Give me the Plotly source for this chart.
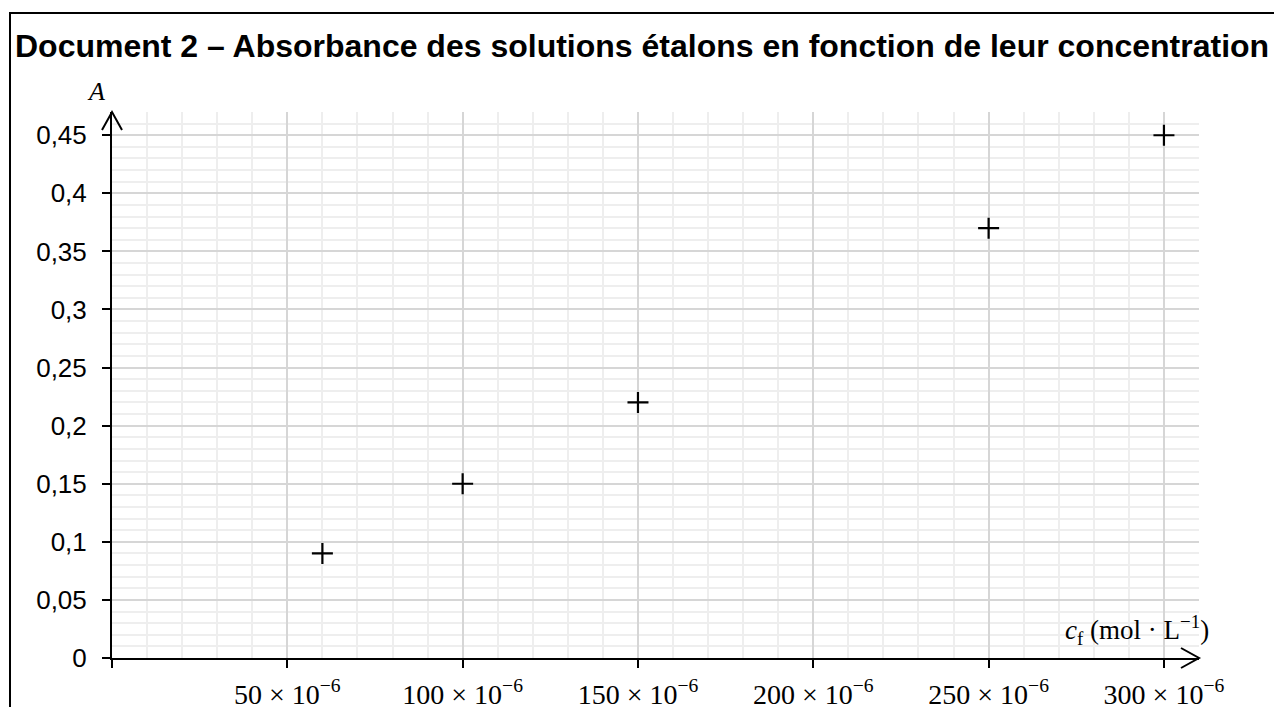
import plotly.graph_objects as go

# Data
concentration = [60e-6, 100e-6, 150e-6, 250e-6, 300e-6]
absorbance = [0.09, 0.15, 0.22, 0.37, 0.45]

x_tickvals = [0, 50e-6, 100e-6, 150e-6, 200e-6, 250e-6, 300e-6]
x_ticktext = ["", "50 × 10<sup>−6</sup>", "100 × 10<sup>−6</sup>", "150 × 10<sup>−6</sup>",
              "200 × 10<sup>−6</sup>", "250 × 10<sup>−6</sup>", "300 × 10<sup>−6</sup>"]
y_tickvals = [0, 0.05, 0.1, 0.15, 0.2, 0.25, 0.3, 0.35, 0.4, 0.45]
y_ticktext = ["0", "0,05", "0,1", "0,15", "0,2", "0,25", "0,3", "0,35", "0,4", "0,45"]

title_text = "Document 2 – Absorbance des solutions étalons en fonction de leur concentration"

X_MAX = 310e-6
Y_MAX = 0.47

# layout geometry (pixels). The page body has an 8 px margin, so the figure
# is offset by (8, 8) in the window; page coordinates below are compensated.
OFF = 8
W, H = 1282 - OFF, 707 - OFF
L = 112 - OFF
T = 112 - OFF
R = W - (1199 - OFF)
B = H - (658 - OFF)
PW, PH = W - L - R, H - T - B


def px_x(p):
    """page x pixel -> paper coordinate"""
    return (p - OFF - L) / PW


def px_y(p):
    """page y pixel -> paper coordinate"""
    return (H - B - (p - OFF)) / PH


fig = go.Figure()
fig.add_trace(go.Scatter(
    x=concentration, y=absorbance, mode="markers",
    marker=dict(symbol="cross-thin", size=15, line=dict(color="black", width=2.2), color="black"),
    showlegend=False, cliponaxis=False,
))

fig.update_layout(
    width=W, height=H,
    margin=dict(l=L, r=R, t=T, b=B, pad=0, autoexpand=False),
    paper_bgcolor="white", plot_bgcolor="white",
    font=dict(family="Liberation Sans, Arial, sans-serif", color="black"),
    showlegend=False,
)

fig.update_xaxes(
    range=[0, X_MAX], showline=True, linecolor="black", linewidth=2,
    zeroline=False, automargin=False,
    tickmode="array", tickvals=x_tickvals, ticktext=x_ticktext,
    ticks="outside", ticklen=8, tickwidth=2, tickcolor="black",
    ticklabelstandoff=2,
    tickfont=dict(family="Liberation Serif, Times New Roman, serif", size=28, color="black"),
    showgrid=True, gridcolor="#d6d6d6", gridwidth=1.5,
    minor=dict(dtick=10e-6, tick0=0, showgrid=True, gridcolor="#eeeeee", gridwidth=1.5, ticks=""),
)
fig.update_yaxes(
    range=[0, Y_MAX], showline=True, linecolor="black", linewidth=2,
    zeroline=False, automargin=False,
    tickmode="array", tickvals=y_tickvals, ticktext=y_ticktext,
    ticks="outside", ticklen=8, tickwidth=2, tickcolor="black",
    ticklabelstandoff=10,
    tickfont=dict(family="Liberation Sans, Arial, sans-serif", size=26, color="black"),
    showgrid=True, gridcolor="#d6d6d6", gridwidth=1.5,
    minor=dict(dtick=0.01, tick0=0, showgrid=True, gridcolor="#eeeeee", gridwidth=1.5, ticks=""),
)

# Arrow heads at the end of the axes (paper-anchored so they are not clipped)
fig.add_shape(type="path", xref="paper", yref="paper", xsizemode="pixel", ysizemode="pixel",
              xanchor=0, yanchor=1, path="M -10,-18 L 0,0 L 10,-18",
              line=dict(color="black", width=2))
fig.add_shape(type="path", xref="paper", yref="paper", xsizemode="pixel", ysizemode="pixel",
              xanchor=1, yanchor=0, path="M -18,10 L 0,0 L -18,-10",
              line=dict(color="black", width=2))

# Outer frame
fig.add_shape(type="rect", xref="paper", yref="paper",
              x0=px_x(10), x1=px_x(1281), y0=px_y(730), y1=px_y(13),
              line=dict(color="black", width=2), fillcolor="rgba(0,0,0,0)", layer="above")

# Title
fig.add_annotation(text=f"<b>{title_text}</b>", xref="paper", yref="paper",
                   x=px_x(642), y=px_y(46), xanchor="center", yanchor="middle",
                   showarrow=False, font=dict(family="Liberation Sans, Arial, sans-serif", size=32, color="black"))

# Axis labels
fig.add_annotation(text="<i>A</i>", xref="paper", yref="paper",
                   x=px_x(96), y=px_y(92), xanchor="center", yanchor="middle",
                   showarrow=False, font=dict(family="Liberation Serif, Times New Roman, serif", size=26, color="black"))
fig.add_annotation(text="<i>c</i><sub>f</sub> (mol · L<sup>−1</sup>)", xref="paper", yref="paper",
                   x=px_x(1211), y=px_y(630), xanchor="right", yanchor="middle",
                   showarrow=False, font=dict(family="Liberation Serif, Times New Roman, serif", size=27, color="black"))

fig.write_html("out.html")
